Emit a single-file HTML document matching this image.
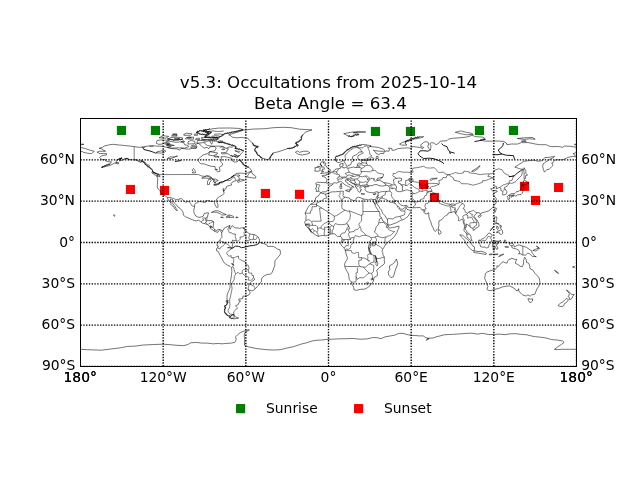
<!DOCTYPE html>
<html lang="en"><head><meta charset="utf-8"><title>v5.3: Occultations from 2025-10-14</title>
<style>html,body{margin:0;padding:0;background:#fff;overflow:hidden}svg{display:block;will-change:transform}</style>
</head><body>
<svg width="640" height="480" viewBox="0 0 640 480">
<rect x="0" y="0" width="640" height="480" fill="#fff"/>
<rect x="116.9" y="125.9" width="9.1" height="9.1" fill="#008000"/>
<rect x="150.9" y="125.9" width="9.1" height="9.1" fill="#008000"/>
<rect x="370.9" y="126.9" width="9.1" height="9.1" fill="#008000"/>
<rect x="405.9" y="126.9" width="9.1" height="9.1" fill="#008000"/>
<rect x="474.9" y="125.9" width="9.1" height="9.1" fill="#008000"/>
<rect x="508.9" y="125.9" width="9.1" height="9.1" fill="#008000"/>
<rect x="125.9" y="184.9" width="9.1" height="9.1" fill="#ff0000"/>
<rect x="160" y="185.9" width="9.1" height="9.1" fill="#ff0000"/>
<rect x="260.9" y="188.9" width="9.1" height="9.1" fill="#ff0000"/>
<rect x="295" y="189.8" width="9.1" height="9.1" fill="#ff0000"/>
<rect x="419" y="180" width="9.1" height="9.1" fill="#ff0000"/>
<rect x="429.9" y="192.9" width="9.1" height="9.1" fill="#ff0000"/>
<rect x="520" y="181.8" width="9.1" height="9.1" fill="#ff0000"/>
<rect x="531" y="195.9" width="9.1" height="9.1" fill="#ff0000"/>
<rect x="554" y="182.9" width="9.1" height="9.1" fill="#ff0000"/>
<g fill="none" stroke="#000" stroke-linejoin="round" stroke-linecap="butt">
<path stroke-width="0.55" d="M112.9,144.3 119.1,145.0 124.6,145.5 130.1,146.1 134.2,146.6 139.7,147.4 143.9,146.7 148.0,146.1 152.1,145.6 156.3,146.1 161.8,146.3 167.3,147.4 170.7,148.5 176.9,148.9 179.7,150.2 181.1,148.4 185.2,148.8 188.7,149.2 192.8,148.3 196.2,148.5 196.9,146.7 195.5,144.3 198.3,143.3 201.1,145.4 202.4,146.7 203.8,148.1 207.3,147.4 208.6,148.8 210.0,146.7 214.8,146.5 216.2,148.1 214.8,150.9 212.1,151.3 209.3,151.6 207.9,153.6 203.8,154.6 201.1,156.4 199.0,158.5 197.9,160.5 198.6,161.6 200.6,163.7 204.5,164.0 207.9,165.3 211.4,166.3 215.1,166.6 215.2,169.5 216.6,170.9 217.6,171.8 219.7,171.5 219.9,169.8 219.2,167.4 221.7,166.0 222.8,164.0 220.6,161.6 221.7,159.6 221.0,156.7 225.2,156.7 228.6,157.5 232.1,158.5 232.7,161.2 234.8,162.2 237.6,161.5 239.4,159.4 241.7,161.9 243.8,164.7 245.8,166.3 248.9,167.4 250.0,168.8 251.6,170.2 250.7,171.5 247.2,172.9 244.5,173.3 240.3,173.2 236.9,173.3 234.1,175.0 231.4,177.1 233.4,176.1 236.2,175.0 239.6,175.0 239.6,176.1 237.6,176.4 238.9,177.7 239.2,178.8 241.7,179.4 243.8,179.7 244.5,180.2 241.0,181.1 238.3,182.4 237.3,181.9 238.3,180.5 239.9,180.1 238.9,179.8 236.2,180.5 234.1,181.3 232.1,182.2 231.0,183.7 231.8,184.9 230.0,185.5 227.2,186.0 226.5,186.7 226.3,188.1 224.9,188.8 224.9,189.9 223.8,191.5 224.1,193.6 222.8,194.7 221.0,195.8 219.4,196.8 217.2,198.3 216.3,200.1 216.9,202.3 217.9,204.6 218.1,207.0 217.3,207.9 216.6,207.4 215.8,206.0 214.6,204.2 214.6,202.5 213.2,201.2 211.0,201.6 209.3,200.6 206.6,200.8 205.2,201.0 205.5,202.4 203.8,202.4 201.7,201.7 199.3,201.6 197.6,202.3 195.5,203.5 194.4,204.9 194.6,207.0 193.9,209.4 193.8,211.8 194.4,213.8 195.8,216.0 197.6,216.9 199.0,217.4 201.1,217.0 203.1,216.3 203.8,214.9 204.1,213.6 206.6,212.9 208.6,212.9 207.9,214.9 207.5,217.0 207.0,218.0 206.8,219.4 206.2,220.6 207.9,220.7 210.0,220.6 212.1,220.7 213.7,221.8 213.5,223.9 213.2,226.0 213.0,227.3 214.1,228.7 215.2,230.1 216.9,230.4 218.8,229.3 220.3,229.5 222.0,230.7 M222.0,230.7 222.7,231.6 221.7,232.4 220.8,231.2 219.7,230.1 218.3,231.1 217.7,232.4 216.2,231.9 214.1,231.1 213.2,230.1 211.4,229.0 210.3,228.3 210.3,227.1 207.9,224.7 206.6,224.3 204.5,223.5 202.4,223.1 200.4,221.4 198.7,220.2 196.2,220.9 193.5,220.2 190.7,219.1 188.0,217.8 185.6,216.9 183.4,215.2 183.3,213.3 182.5,211.1 180.4,208.7 178.0,207.0 176.5,205.0 174.9,203.4 173.2,201.4 172.5,199.5 170.3,198.8 170.5,200.8 172.3,202.8 173.5,204.6 175.2,206.7 176.3,208.9 177.5,210.5 176.5,210.5 174.5,208.6 173.8,206.7 171.4,205.2 170.7,204.2 171.2,203.1 169.4,201.6 168.3,199.8 167.2,197.7 165.5,195.9 164.1,195.4 162.3,194.8 161.8,193.2 160.4,191.8 159.6,190.4 158.1,188.8 157.2,187.0 157.4,184.6 157.5,181.9 157.8,178.8 156.7,176.0 159.0,176.2 159.9,177.2 159.7,175.3 158.8,174.6 156.6,173.6 153.8,172.5 152.4,171.5 152.4,170.2 150.8,168.7 149.1,167.4 147.3,165.9 145.9,164.4 143.9,162.6 141.8,160.9 140.4,162.2 138.4,161.2 136.0,160.2 132.9,159.8 129.4,159.6 126.9,158.5 124.2,158.9 122.5,160.1 119.5,160.8 120.0,159.0 122.1,158.2 119.5,158.5 117.7,160.0 116.0,161.2 117.0,162.2 114.5,163.1 112.2,164.4 109.8,165.5 106.7,166.2 103.9,167.0 101.4,167.4 104.6,165.9 107.4,165.1 110.1,163.7 111.5,161.8 109.7,161.8 107.4,161.5 105.3,160.8 105.3,159.4 101.9,159.8 100.5,158.2 99.8,157.4 101.2,156.0 103.2,155.4 106.4,155.0 106.7,153.6 103.9,153.6 99.5,153.5 97.0,152.1 99.8,151.3 102.8,151.3 105.6,151.2 103.2,150.2 102.5,149.1 99.1,148.3 102.5,147.4 104.2,146.1 108.3,145.0 112.9,144.3 M222.0,230.7 223.4,230.1 224.3,228.0 225.9,227.2 228.2,226.2 230.0,225.4 229.6,227.1 230.0,229.3 230.7,227.6 231.8,226.7 232.3,225.7 234.1,227.1 234.8,227.9 237.3,227.9 239.4,228.4 241.7,227.8 243.4,227.8 244.5,229.1 244.7,230.8 246.9,231.5 249.1,233.8 252.4,234.4 254.4,234.6 256.9,236.0 258.2,236.9 259.6,240.0 259.6,242.1 261.7,243.3 263.7,243.5 266.9,245.0 267.5,246.4 270.6,246.4 273.4,246.5 275.5,247.6 277.5,249.1 279.9,249.8 280.6,252.4 280.0,254.9 278.2,257.0 276.8,258.6 275.2,260.4 274.8,262.5 274.8,265.9 273.8,267.7 273.1,270.1 272.0,272.8 270.6,274.1 267.2,274.5 264.7,275.6 262.4,277.4 261.5,279.0 261.4,281.5 259.6,283.8 257.5,286.3 256.2,288.0 254.8,289.3 252.9,290.6 251.1,290.6 248.9,289.9 248.0,289.3 249.6,291.4 250.2,292.8 249.1,294.9 245.8,296.1 242.8,296.2 242.8,298.6 238.9,299.0 238.9,300.8 240.7,301.1 238.9,302.4 238.3,304.5 235.5,305.9 237.6,307.9 235.5,310.0 233.6,311.8 234.1,314.6 232.7,314.6 230.7,316.3 227.9,315.5 225.9,314.1 224.8,312.1 224.5,309.3 225.9,307.3 224.5,306.6 226.5,304.5 227.9,302.4 227.9,300.4 226.8,299.0 227.0,297.6 227.2,294.9 227.6,293.5 228.6,291.4 230.0,288.0 230.0,284.5 230.3,281.8 231.0,278.3 231.5,274.9 231.8,271.4 231.6,267.9 230.0,266.3 227.2,265.0 224.5,263.2 223.4,261.5 222.1,259.0 220.6,256.3 219.2,253.5 218.3,251.5 216.6,250.8 216.5,248.7 217.9,247.2 218.3,245.9 216.9,245.5 217.2,243.9 218.1,242.5 218.3,241.4 219.9,240.6 220.3,239.1 222.0,237.3 221.7,234.9 221.9,233.1 221.2,232.6 221.7,232.4 M234.0,315.0 234.4,316.2 236.9,317.6 238.7,318.0 236.2,318.6 233.4,318.8 230.7,318.0 229.3,316.9 230.7,316.6 231.4,315.2 234.0,315.0 M228.6,134.8 234.8,133.0 238.9,131.6 243.1,130.2 252.7,129.1 265.1,128.7 273.4,127.7 283.0,127.3 291.3,127.7 299.6,129.2 312.0,129.9 305.1,132.3 303.0,135.0 300.9,137.1 301.6,139.2 298.9,141.2 295.4,143.3 298.2,145.4 295.4,146.3 292.7,148.0 287.2,148.7 283.0,150.2 278.2,151.8 273.4,152.9 271.3,155.7 269.3,159.1 267.2,159.8 265.1,158.9 262.4,158.5 259.6,156.4 257.5,154.3 256.2,152.3 254.8,150.2 255.5,148.1 258.2,146.7 253.4,145.4 252.7,143.3 250.7,141.2 249.3,139.9 247.2,138.1 241.7,137.5 236.2,137.8 232.1,137.1 230.7,135.7 228.6,134.8 M239.6,155.7 236.9,157.1 234.1,156.4 230.7,155.7 227.9,153.6 222.4,153.9 221.0,152.9 226.5,152.3 227.2,150.2 228.6,149.1 223.8,147.4 220.3,146.1 215.5,146.2 211.4,146.1 207.3,145.4 204.5,143.3 205.9,141.2 211.4,140.8 216.9,141.2 218.3,142.6 222.4,142.2 226.5,143.6 230.7,144.7 234.8,146.1 236.2,147.4 234.8,148.1 240.3,149.5 243.8,150.9 241.7,152.9 239.6,155.7 M167.3,147.4 172.1,148.1 179.7,147.8 184.5,148.1 188.7,146.7 188.0,145.4 184.5,144.7 183.8,142.6 179.7,141.9 175.6,142.3 171.4,141.5 165.9,142.6 164.5,144.0 168.7,144.3 166.6,145.6 171.4,146.1 167.3,147.4 M156.3,143.3 159.0,144.4 162.5,144.0 165.9,141.9 169.4,140.5 165.9,140.1 161.1,139.9 157.0,140.5 156.3,142.6 156.3,143.3 M204.5,137.1 211.4,137.4 218.3,137.5 221.0,136.4 222.4,135.0 225.2,133.7 232.1,132.3 238.9,130.9 243.1,129.5 238.9,128.4 229.3,128.0 218.3,128.1 210.0,129.2 203.1,130.2 207.3,131.6 211.4,132.3 210.0,133.7 207.3,135.0 204.5,137.1 M218.3,139.2 215.5,139.9 207.3,139.9 201.7,139.4 201.7,137.4 205.9,137.4 211.4,138.2 218.3,138.2 218.3,139.2 M196.2,132.3 200.4,130.6 204.5,131.6 208.6,133.0 205.9,134.8 200.4,134.1 196.2,132.3 M167.3,138.9 174.2,140.0 182.5,139.4 182.5,137.8 176.9,137.2 171.4,137.5 167.3,138.9 M188.0,144.0 194.9,143.7 194.9,141.2 190.7,140.5 188.0,141.9 188.0,144.0 M196.9,143.3 203.8,142.6 204.5,140.5 197.6,140.5 196.9,143.3 M185.2,138.8 193.5,139.2 193.5,137.1 186.6,137.4 185.2,138.8 M208.6,155.0 212.8,155.7 216.9,154.3 217.6,152.9 212.8,152.3 210.0,151.6 208.6,155.0 M159.0,137.8 165.9,138.1 168.7,136.4 163.2,135.7 159.0,137.8 M190.7,147.8 196.2,147.8 196.2,146.3 192.1,146.3 190.7,147.8 M171.4,136.0 176.9,136.0 176.9,135.0 172.8,135.0 171.4,136.0 M172.8,134.6 176.9,134.6 176.9,133.9 172.8,133.9 172.8,134.6 M183.8,135.3 190.7,135.3 192.1,133.9 186.6,133.2 183.8,134.3 183.8,135.3 M194.2,135.3 197.6,135.3 196.9,133.9 194.2,134.3 194.2,135.3 M195.5,139.6 199.7,139.6 199.7,138.3 196.2,138.3 195.5,139.6 M221.7,149.5 224.5,149.8 224.5,148.8 222.4,148.8 221.7,149.5 M217.6,141.9 222.4,142.2 223.1,141.2 219.7,140.8 217.6,141.9 M214.1,156.0 218.3,156.4 216.9,157.1 214.1,156.7 214.1,156.0 M217.9,157.1 219.0,157.5 218.7,156.5 217.9,157.1 M215.5,169.5 217.6,169.8 216.9,169.2 215.5,169.5 M181.1,141.6 184.5,141.9 183.8,140.8 181.1,141.6 M239.6,152.9 236.9,151.6 234.8,150.7 237.6,151.2 240.3,151.3 M238.3,156.0 235.5,155.0 234.1,154.6 236.9,155.3 M210.0,141.2 211.0,143.3 211.7,144.3 212.4,142.6 212.8,141.2 M166.6,145.2 171.4,145.2 174.2,145.5 170.7,144.8 167.3,144.7 M165.9,144.1 170.1,143.9 166.6,143.4 M174.2,138.9 176.9,138.3 179.7,138.6 176.9,139.2 174.2,138.9 M187.3,137.8 189.3,137.0 191.4,137.7 189.3,138.2 187.3,137.8 M212.8,138.1 215.5,137.8 217.6,138.1 M207.3,131.7 212.8,130.9 218.3,131.5 223.8,131.0 M214.1,134.3 219.7,133.9 223.1,134.6 M211.4,136.4 215.5,135.7 219.7,136.1 M226.5,148.1 229.3,147.0 232.1,147.2 233.4,146.3 M219.7,147.7 222.4,146.3 224.5,147.2 M190.7,146.1 193.5,145.0 195.1,146.1 M149.4,146.1 151.5,146.5 153.5,146.2 M141.8,147.4 143.9,147.7 145.3,146.9 M246.8,176.9 251.3,177.7 255.5,178.2 255.9,176.9 254.8,175.4 252.7,174.3 251.8,172.5 252.0,171.5 250.0,172.2 248.6,174.3 246.8,176.9 M211.4,212.5 214.8,210.8 218.3,210.8 222.4,212.9 226.3,214.7 221.7,215.1 220.3,213.6 216.2,212.2 212.8,212.2 211.4,212.5 M225.9,217.1 228.6,217.4 230.7,217.4 234.1,217.3 232.7,216.0 230.0,215.1 227.5,215.1 228.6,216.3 225.9,217.1 M220.6,217.3 223.4,217.7 222.4,217.0 220.6,217.3 M235.9,217.7 238.0,217.6 237.6,217.0 235.9,217.1 235.9,217.7 M151.7,172.6 155.6,175.5 158.3,176.0 156.3,173.6 151.7,172.6 M115.6,163.3 118.4,164.0 118.7,162.6 116.6,162.6 115.6,163.3 M295.4,152.3 298.2,154.3 302.3,155.0 307.8,153.9 309.9,152.9 307.8,151.3 303.7,151.2 299.6,152.3 297.5,151.0 295.4,152.3 M113.6,215.4 114.3,216.3 115.2,215.6 113.8,214.7 113.6,215.4 M243.4,228.6 244.5,228.6 244.5,227.6 243.4,227.8 243.4,228.6 M226.3,300.4 227.2,300.4 227.1,302.3 226.1,302.0 226.3,300.4 M201.7,178.2 204.5,176.8 206.6,175.7 209.3,176.0 211.7,177.7 211.8,178.4 208.6,178.4 205.2,178.0 201.7,178.2 M207.5,184.6 207.5,181.9 208.6,179.5 210.7,179.3 211.1,180.8 209.6,182.6 209.3,184.6 207.5,184.6 M212.1,179.1 215.5,179.1 218.3,180.5 216.2,181.2 215.1,183.0 213.5,181.9 213.7,180.2 212.1,179.1 M213.6,184.9 216.2,185.3 219.7,183.7 217.6,183.7 214.8,184.4 213.6,184.9 M218.7,182.8 222.4,182.8 223.4,181.9 221.0,181.9 218.7,182.8 M192.1,172.9 195.5,172.9 194.9,170.2 193.5,168.4 192.1,169.8 193.2,171.5 192.1,172.9 M167.3,158.5 171.4,158.5 175.6,156.4 177.6,156.0 174.2,157.1 170.1,156.8 167.3,158.5 M157.0,152.9 161.1,153.1 164.5,152.3 165.9,150.9 163.2,150.2 160.4,151.2 157.0,151.8 157.0,152.9 M174.9,161.6 177.6,161.2 181.1,160.5 178.3,160.9 174.9,161.6 M231.4,263.6 233.0,264.0 233.7,265.2 232.3,264.5 231.4,263.6 M210.0,227.3 211.4,227.1 211.5,226.0 210.3,225.8 210.0,227.3 M363.9,144.5 367.1,145.0 371.2,145.8 369.8,146.5 374.0,146.9 378.1,147.4 383.6,149.2 385.0,150.6 383.6,151.3 379.5,151.2 374.7,150.6 373.3,150.2 375.3,151.8 376.3,153.6 378.8,154.5 380.4,153.5 383.6,153.5 384.0,152.0 386.4,151.0 389.1,151.2 389.4,149.5 388.4,148.1 391.9,148.4 391.9,150.2 394.2,150.3 397.4,148.8 402.2,148.1 404.3,148.1 407.7,147.8 411.2,148.4 412.5,146.5 416.7,147.0 420.8,147.7 422.9,148.5 423.6,147.4 420.8,146.5 420.8,144.7 422.9,143.3 424.3,141.9 427.7,141.9 428.8,144.0 427.7,146.1 428.5,148.1 429.8,149.5 427.7,151.2 430.5,150.2 430.5,148.8 431.1,146.1 429.8,143.7 431.8,142.6 434.6,143.3 436.0,144.7 438.7,143.3 440.1,141.2 447.0,140.7 448.4,139.2 452.5,138.3 459.4,137.8 466.3,137.1 472.2,135.4 475.9,136.7 482.8,137.1 484.9,138.5 480.1,140.1 483.5,140.8 485.6,141.1 491.1,141.2 498.0,141.0 503.5,141.4 506.2,142.9 506.9,144.7 511.7,144.0 517.3,144.1 521.4,142.6 528.3,142.6 535.2,144.0 539.3,144.7 546.2,144.7 548.9,146.1 551.7,146.6 558.6,146.5 562.7,147.4 564.1,146.1 571.0,146.3 576.5,147.4 M80.5,147.4 84.6,148.4 90.1,150.2 94.3,151.3 91.5,153.6 87.4,153.2 83.3,152.3 81.9,151.2 80.5,152.3 M576.5,152.3 573.7,153.6 573.1,153.2 575.1,155.7 575.8,156.4 572.4,156.4 568.2,157.4 562.7,159.8 557.2,159.8 554.5,160.1 553.1,162.6 551.7,162.9 553.1,165.3 551.7,166.7 548.9,169.5 546.9,169.6 544.4,172.2 543.4,169.5 542.7,166.7 543.0,164.0 544.8,162.6 548.3,160.5 550.3,159.1 553.8,157.5 554.5,156.4 548.9,157.4 544.8,157.5 542.1,160.8 537.9,161.2 533.8,160.2 529.0,160.7 524.1,161.2 518.6,164.7 514.8,167.1 517.9,168.1 518.6,168.5 521.4,169.2 523.3,169.1 522.1,171.5 522.1,173.6 521.4,175.7 519.3,177.7 516.6,180.5 515.2,181.9 511.7,183.5 510.1,182.8 508.6,184.2 507.2,185.5 506.9,186.3 504.2,187.7 504.2,188.4 505.3,189.2 506.8,191.5 506.8,193.6 505.8,194.3 502.8,195.1 502.5,193.6 503.1,191.5 500.7,190.4 501.0,189.2 500.3,187.9 499.8,187.4 496.0,188.8 496.6,186.7 495.2,186.3 492.5,188.5 490.7,188.8 491.8,190.1 492.5,191.1 494.8,190.4 497.3,191.0 497.1,191.7 494.5,192.8 492.9,194.3 494.5,196.3 496.3,198.7 496.3,199.8 495.2,200.5 496.6,201.2 495.9,203.2 493.8,205.7 492.5,207.8 491.1,208.9 489.0,210.8 485.8,211.8 484.2,212.2 481.4,213.0 480.5,214.5 479.6,212.9 477.3,212.7 475.5,214.3 474.1,216.3 475.2,218.1 477.3,220.5 478.7,223.2 479.1,226.0 478.7,226.7 475.9,228.2 475.2,229.4 473.2,230.5 473.2,228.7 472.5,228.2 470.4,227.3 469.7,226.0 467.7,225.0 467.0,223.9 466.3,224.2 466.3,226.7 465.3,228.3 465.6,229.8 466.7,231.1 467.2,232.9 468.8,233.5 469.7,234.2 471.0,236.3 471.1,238.6 472.1,240.6 471.1,240.7 469.7,239.6 468.1,238.5 467.0,236.7 466.7,234.5 466.4,233.5 465.6,232.4 464.5,231.5 463.9,230.4 464.2,228.7 464.5,226.4 464.2,224.6 463.5,223.2 463.1,221.1 463.0,219.8 462.1,219.1 460.8,219.8 459.8,220.7 458.4,220.5 458.7,218.4 458.0,216.3 456.6,214.9 455.7,213.6 455.0,211.8 453.2,211.8 451.1,212.5 448.4,212.9 447.7,214.7 445.6,215.6 443.5,217.7 441.9,219.6 439.1,220.9 438.7,223.2 439.0,225.3 438.4,227.3 438.4,228.3 437.3,229.4 436.2,230.2 435.3,231.5 433.9,230.1 433.2,228.0 432.2,226.2 431.4,224.2 430.9,221.8 429.8,220.0 429.1,217.7 428.8,216.0 428.8,213.6 428.4,212.5 428.0,213.6 426.3,213.8 424.9,213.6 423.6,211.8 425.4,210.9 423.2,210.4 421.5,209.4 420.8,208.3 420.1,207.5 416.7,207.6 413.4,207.8 409.8,207.5 407.4,207.1 406.8,205.3 403.9,205.9 401.5,205.3 399.5,204.1 397.7,201.2 396.0,200.6 394.6,201.2 394.6,202.5 395.7,204.3 397.7,205.9 397.4,207.1 398.8,206.7 399.6,207.8 399.5,208.7 400.8,209.2 402.9,209.2 405.0,207.4 406.1,206.4 406.2,208.3 407.0,209.4 409.4,210.0 410.9,211.5 409.2,214.4 408.1,216.3 406.3,217.7 404.3,219.1 400.6,220.5 396.0,222.9 390.5,224.9 388.4,225.0 388.0,224.2 387.5,222.1 387.5,219.9 386.4,218.0 384.7,215.4 382.5,213.2 381.5,210.1 379.9,208.3 379.1,206.7 377.0,203.9 376.4,201.9 375.8,203.9 375.6,204.3 374.4,203.2 373.4,201.2 M373.4,201.2 373.3,201.7 374.7,203.9 375.3,205.7 376.7,208.3 377.7,209.7 379.3,212.2 379.9,213.8 379.9,216.3 381.5,217.7 382.9,221.1 385.3,222.5 387.1,224.3 388.2,225.3 388.2,226.7 389.8,228.0 392.6,227.6 396.0,226.9 399.0,226.1 398.9,228.0 397.8,230.1 396.7,232.9 394.6,236.3 391.9,239.1 389.1,241.1 386.4,243.9 384.7,245.9 383.6,248.0 382.6,249.4 382.0,251.5 382.9,252.8 382.9,254.9 384.3,257.0 384.3,260.4 384.6,263.2 382.9,265.2 380.2,266.9 378.8,268.4 376.7,270.1 377.4,272.8 377.4,275.6 374.0,277.6 373.7,279.7 373.1,282.0 371.2,283.8 369.8,285.9 367.1,288.0 364.3,289.2 360.9,289.3 356.1,290.4 353.9,289.6 353.6,287.3 352.3,284.5 351.2,281.9 349.4,279.7 348.9,276.9 348.5,273.9 347.1,271.4 345.0,267.3 344.6,264.5 345.4,261.8 347.1,259.7 347.4,257.7 346.4,254.9 345.4,250.8 345.0,249.4 343.7,247.7 341.6,245.7 340.6,243.6 341.6,241.8 341.9,239.7 342.0,238.0 340.9,236.6 339.5,236.3 337.5,236.6 336.1,235.2 334.7,233.8 331.9,233.8 330.2,234.2 327.8,235.2 325.7,235.9 324.4,235.5 321.6,235.5 318.2,236.4 316.1,235.3 313.6,233.5 311.3,232.2 310.2,230.1 308.5,228.0 307.8,227.3 305.5,225.4 305.4,223.9 304.4,222.2 305.8,220.5 306.0,217.7 306.2,215.8 305.1,213.6 306.5,210.1 308.5,206.7 310.6,204.3 312.7,203.2 314.7,201.9 315.1,200.5 315.7,197.7 318.2,196.2 320.2,193.2 321.2,193.0 324.4,193.9 325.7,194.1 328.5,193.2 330.6,192.2 332.6,191.8 335.4,191.8 338.1,191.5 340.9,191.2 342.3,191.2 343.7,191.5 343.0,192.9 343.4,195.0 342.6,195.7 343.7,196.8 345.7,197.3 349.2,198.0 349.9,199.1 353.3,200.5 355.4,200.5 356.1,199.1 356.3,198.0 358.1,197.2 360.2,197.7 362.9,198.7 365.7,199.4 368.5,199.9 370.5,199.2 371.9,199.1 373.0,199.5 373.4,201.2 M373.0,199.5 375.6,199.4 376.6,197.7 377.4,195.7 378.1,193.6 378.1,191.8 376.0,191.9 373.3,192.8 370.5,192.5 368.5,192.2 367.1,191.8 366.1,191.2 365.0,189.5 365.4,188.4 364.6,187.4 366.4,186.8 368.5,186.7 368.7,185.7 371.9,185.7 374.7,184.6 377.0,184.6 378.8,185.6 381.5,186.0 383.6,186.0 385.7,185.3 385.7,183.9 383.6,182.6 381.5,181.3 379.9,180.5 379.2,180.1 380.9,178.4 382.5,177.5 380.2,177.7 377.4,178.4 376.7,179.5 378.8,180.2 377.0,180.6 375.3,181.3 374.7,181.1 373.3,179.9 374.8,179.0 372.6,178.4 370.9,178.4 369.4,180.1 368.0,181.9 367.8,182.7 366.7,183.7 367.1,184.8 368.5,185.6 367.1,186.0 365.7,186.4 364.6,187.0 364.3,186.3 362.3,186.1 361.3,187.0 360.1,186.7 359.8,188.1 360.5,188.8 361.6,190.1 360.5,190.1 360.5,191.1 360.2,192.2 359.1,192.1 358.3,191.5 357.7,190.3 357.7,189.5 356.7,188.1 355.4,187.0 355.4,185.3 354.7,184.4 352.6,183.3 350.5,182.4 349.2,181.2 348.2,180.2 347.4,180.2 347.4,179.5 345.4,180.1 345.6,181.5 347.2,182.4 348.2,184.1 350.5,184.8 351.2,185.6 353.3,186.6 354.0,187.3 351.9,186.7 351.4,187.8 352.1,188.8 351.2,189.6 350.1,190.1 350.5,189.0 350.1,187.4 348.5,186.4 346.4,185.6 345.3,184.9 343.7,183.9 342.7,182.6 341.6,181.6 340.6,181.3 338.8,182.2 336.8,183.1 334.7,182.7 332.9,183.3 332.9,184.2 331.5,185.5 329.5,186.3 328.1,188.1 328.6,189.0 327.5,190.6 325.7,191.8 322.4,191.9 321.1,192.8 319.8,191.9 318.3,191.2 316.2,191.5 316.4,189.5 315.5,189.0 316.4,187.1 316.5,185.3 315.8,183.3 317.5,182.3 320.9,182.4 323.7,182.6 326.0,182.7 326.7,181.2 327.0,179.5 325.7,178.0 325.1,177.1 322.3,176.5 322.0,175.7 324.4,175.3 326.3,175.4 326.2,174.0 328.1,174.6 328.9,174.0 330.6,173.3 330.7,172.4 332.6,171.8 334.0,170.9 335.0,169.5 336.8,168.9 338.1,168.7 340.2,168.5 340.5,167.4 339.8,166.0 339.8,164.2 341.6,163.7 343.1,163.0 342.7,164.7 343.4,164.9 342.3,166.4 342.0,167.0 343.7,167.5 343.7,168.1 345.7,167.5 348.1,168.2 350.5,167.7 353.3,167.0 354.3,167.5 355.8,167.4 357.4,166.3 357.4,164.2 358.4,163.1 359.6,163.0 361.6,164.0 362.1,162.2 360.9,160.9 362.9,160.5 367.1,160.5 370.1,160.0 367.8,159.0 364.3,159.3 360.2,160.0 358.1,159.1 357.8,157.4 358.1,155.7 361.6,153.6 363.4,152.8 362.3,151.8 359.2,152.0 357.8,153.6 356.7,154.6 354.0,155.7 352.6,156.7 352.2,158.9 354.3,159.7 354.0,160.8 351.6,161.8 351.2,163.3 350.5,164.9 348.5,165.3 348.1,166.2 346.4,166.2 346.1,164.8 345.0,163.1 343.9,161.2 343.1,160.1 341.9,161.2 339.8,162.5 338.1,162.6 336.2,161.5 335.4,159.8 335.4,157.8 335.7,156.8 338.1,155.8 340.2,155.0 342.3,154.3 344.3,152.9 345.7,151.6 347.1,150.2 349.2,148.8 350.5,147.8 353.3,146.7 356.1,146.1 358.8,145.6 361.6,144.7 363.9,144.5 M320.6,173.5 323.7,173.2 327.1,172.6 329.9,172.4 330.4,171.8 329.2,171.5 330.8,170.0 328.8,169.5 328.5,168.5 326.8,167.3 326.3,166.0 324.4,165.3 325.7,164.0 325.7,163.0 323.0,163.1 324.4,161.8 321.6,161.8 320.5,163.3 320.9,164.9 321.9,166.0 321.6,167.0 323.7,166.9 324.4,168.2 324.4,169.1 322.3,169.2 322.7,170.4 321.3,171.1 323.7,171.5 322.3,172.2 320.6,173.5 M320.2,170.6 317.5,171.3 314.7,171.1 315.4,169.2 314.7,167.8 317.1,167.4 317.5,166.4 320.0,166.4 320.9,167.4 320.0,168.8 320.2,170.6 M345.7,190.1 349.9,189.9 349.4,191.9 345.7,190.7 345.7,190.1 M339.8,186.0 341.9,186.0 341.7,188.5 340.2,188.8 339.8,186.0 M340.5,183.8 341.6,183.4 341.5,185.3 340.6,185.2 340.5,183.8 M361.0,193.6 364.7,194.0 362.3,194.3 361.0,193.6 M373.0,194.3 376.0,193.5 375.1,194.7 373.0,194.3 M399.5,144.0 401.5,145.1 407.0,145.1 405.0,143.3 405.7,141.2 409.1,139.9 413.9,138.1 419.4,136.8 423.6,136.7 420.8,137.8 413.9,139.2 408.4,141.2 405.0,141.5 402.2,142.6 399.5,144.0 M343.7,133.7 347.8,135.7 351.9,136.8 354.7,135.0 358.8,134.6 357.4,133.0 353.3,132.7 365.7,132.0 358.8,131.5 350.5,132.3 343.7,133.7 M460.8,133.7 466.3,134.8 473.2,134.3 470.4,133.0 466.3,132.3 460.8,130.9 455.3,132.3 460.8,133.7 M517.3,138.5 524.1,139.4 529.7,138.8 535.2,139.2 532.4,137.5 524.1,137.8 517.3,138.5 M521.4,141.2 526.2,141.6 525.5,140.5 521.4,141.2 M574.4,144.7 576.5,144.0 576.5,144.8 574.4,144.7 M80.5,144.0 83.9,144.3 80.5,144.8 M524.1,167.7 525.9,170.9 525.8,173.6 527.6,175.0 525.5,175.7 525.8,178.2 524.1,179.1 524.1,175.7 524.1,172.9 523.7,170.2 524.1,167.7 M521.4,185.3 523.0,184.9 525.8,184.6 529.0,182.8 527.3,181.9 524.1,179.8 523.6,181.2 523.2,182.8 521.8,183.3 521.4,185.3 M523.2,185.6 524.1,188.1 522.8,189.7 522.8,191.8 522.1,193.3 521.1,194.3 519.7,194.7 517.3,194.8 517.0,195.2 515.6,196.3 514.5,195.0 511.7,195.2 509.0,195.7 508.9,195.8 510.0,197.0 509.4,199.2 507.9,199.4 507.9,197.7 507.2,196.6 509.0,195.1 511.1,193.7 513.1,193.6 514.9,193.5 515.9,192.5 517.0,191.1 517.7,191.8 519.3,191.0 520.7,189.5 521.4,187.7 521.4,186.4 523.2,185.6 M511.1,195.9 513.4,195.2 514.1,195.9 512.4,196.6 511.5,197.3 511.1,195.9 M495.2,207.8 496.5,208.3 495.1,212.2 494.0,210.8 495.2,207.8 M478.3,215.9 480.7,214.9 481.4,215.6 479.6,217.3 478.3,216.9 478.3,215.9 M494.7,217.0 496.9,217.0 496.6,219.8 495.9,221.1 496.6,223.2 499.3,224.6 498.7,223.6 496.6,223.6 495.2,223.8 494.8,222.2 493.8,221.1 494.2,219.8 494.7,217.0 M496.6,232.9 498.7,231.9 499.6,233.8 501.3,234.5 502.8,233.1 502.4,230.8 501.4,229.1 500.0,230.7 498.7,230.7 496.9,231.5 496.6,232.9 M490.1,230.8 493.1,228.0 492.9,226.9 490.1,230.8 M500.0,225.3 501.4,225.7 501.1,227.3 500.7,228.4 500.0,226.9 500.0,225.3 M496.6,226.2 498.0,226.7 498.4,228.7 497.3,229.4 496.6,228.0 496.6,226.2 M478.7,240.4 480.5,240.2 481.8,239.1 484.2,238.0 486.3,236.0 488.3,233.5 489.7,232.9 490.4,234.0 492.5,235.3 491.1,236.6 490.7,238.4 492.2,241.1 490.8,241.4 490.4,243.5 489.0,244.6 488.6,247.3 486.5,248.0 484.9,247.0 482.5,247.2 480.5,246.5 480.1,244.6 478.7,242.5 478.7,240.4 M459.8,234.8 462.8,235.3 464.9,237.3 467.0,239.1 469.0,241.1 471.1,242.5 471.5,243.9 472.5,245.9 474.5,246.9 474.3,250.5 472.5,250.5 469.4,248.0 467.7,245.9 466.0,243.2 464.5,240.2 462.1,237.7 459.8,234.8 M473.4,251.9 475.2,250.8 478.0,251.6 481.0,251.3 483.8,252.0 486.3,253.2 486.0,254.5 482.8,253.9 478.7,253.2 475.2,252.7 473.4,251.9 M493.6,241.4 494.9,240.7 498.0,241.3 500.7,240.3 499.8,241.9 495.9,241.8 494.1,242.5 495.2,243.9 498.4,243.6 496.2,245.1 497.3,246.9 498.0,248.0 497.3,249.4 496.2,249.0 495.2,246.2 494.2,246.6 494.4,250.1 493.1,250.1 493.1,247.3 492.2,246.2 493.6,241.4 M498.7,256.7 500.0,255.2 503.8,254.1 501.4,255.6 498.7,256.7 M493.6,254.2 498.0,253.9 497.7,254.6 493.8,254.6 493.6,254.2 M489.4,254.1 492.5,253.9 492.2,254.6 489.4,254.9 489.4,254.1 M504.2,240.0 505.8,240.4 504.9,241.8 505.7,243.2 504.6,242.5 504.2,240.0 M504.9,246.6 508.7,247.0 506.9,247.3 504.9,247.0 504.9,246.6 M509.0,243.6 511.1,243.1 513.1,243.6 514.5,247.0 517.3,245.3 519.3,245.0 522.8,246.1 526.2,247.2 529.4,249.4 531.7,250.8 532.1,252.8 534.9,256.3 536.3,256.7 532.1,256.3 529.7,253.8 527.6,253.1 525.5,255.2 522.8,255.0 520.0,253.5 518.6,254.1 519.7,252.1 518.6,250.1 515.9,248.8 512.4,248.0 511.5,246.6 512.8,245.7 510.4,245.5 509.0,243.6 M532.8,250.4 535.2,249.4 537.9,248.3 538.3,249.4 535.9,251.0 532.8,250.4 M536.3,246.1 539.0,247.7 539.3,249.0 537.9,247.0 536.3,246.1 M438.4,229.1 440.4,230.8 441.2,232.9 440.1,234.1 438.7,234.2 438.3,231.5 438.4,229.1 M396.4,259.0 397.8,263.2 397.0,265.9 395.3,270.1 393.5,276.7 390.9,277.6 388.7,274.9 388.2,272.1 389.8,269.4 389.4,265.9 392.3,264.3 394.4,262.5 395.7,260.4 396.4,259.0 M524.8,257.2 526.2,259.7 526.6,262.5 528.7,263.2 529.7,265.9 530.1,268.7 533.1,270.3 534.8,273.2 536.3,274.9 539.0,277.4 539.6,280.4 540.0,282.5 538.6,286.6 536.8,289.1 535.4,292.8 534.9,294.2 531.7,294.9 530.1,296.2 528.0,294.9 526.2,296.0 522.8,295.1 521.0,293.2 518.9,291.5 518.6,288.7 517.9,290.7 515.9,290.4 514.8,288.7 513.1,287.7 509.7,285.9 506.2,286.2 502.1,287.0 499.3,288.2 495.9,289.1 493.1,289.8 491.1,290.7 488.3,290.3 486.9,289.3 487.9,286.6 486.9,283.8 485.6,280.4 484.6,278.3 485.2,275.6 485.3,273.5 486.9,272.1 489.7,271.0 492.5,270.1 495.2,269.6 497.0,267.3 496.9,265.9 498.7,266.3 500.0,264.5 501.8,262.5 503.5,261.8 505.3,262.9 507.1,263.0 507.6,261.1 509.0,259.3 511.1,259.0 511.7,258.2 514.5,259.3 516.8,259.3 515.9,261.1 515.2,263.2 517.9,264.5 520.7,266.5 522.5,266.6 523.5,263.9 523.6,260.4 524.4,257.7 524.8,257.2 M527.9,298.6 530.3,299.1 532.8,298.9 532.4,301.1 531.0,302.4 529.7,302.4 528.6,300.6 527.9,298.6 M566.4,289.9 568.6,291.1 570.3,293.1 571.7,294.6 574.2,294.4 572.6,296.6 572.1,298.3 569.9,299.8 569.3,299.4 569.6,297.6 568.0,296.6 569.2,294.9 569.1,293.2 566.9,290.7 566.4,289.9 M566.4,298.3 568.5,299.7 566.6,302.4 564.5,303.5 563.8,305.6 562.0,306.7 559.3,306.2 557.9,305.6 560.2,303.4 563.4,301.5 565.2,299.7 566.4,298.3 M554.5,270.2 557.9,272.4 558.6,273.4 556.5,272.5 554.5,270.2 M572.8,266.6 574.4,266.5 574.6,267.4 572.9,267.6 572.8,266.6 M393.3,179.8 396.0,178.4 398.8,178.0 401.5,178.4 401.5,180.5 399.5,181.2 398.1,181.2 398.8,183.3 400.8,183.9 401.2,185.3 402.9,186.0 402.2,188.1 402.9,190.8 400.1,191.8 398.1,191.5 396.0,190.7 396.0,189.2 396.7,187.0 395.3,184.9 393.9,183.3 393.9,181.9 393.3,179.8 M409.1,178.4 412.5,178.4 413.2,180.5 411.2,181.9 409.1,181.2 409.1,178.4 M429.8,179.8 431.8,178.2 434.6,178.4 437.3,178.0 436.7,178.8 433.2,179.1 431.1,180.5 429.8,179.8 M471.8,171.5 474.5,170.9 478.0,168.8 480.1,165.8 479.4,165.8 477.3,167.7 474.5,169.5 471.8,171.1 471.8,171.5 M370.5,159.8 373.3,159.8 374.0,158.5 371.9,157.5 370.1,158.5 370.5,159.8 M376.0,158.5 378.1,158.5 378.1,156.4 376.4,156.4 376.0,158.5 M372.3,242.1 375.3,242.1 375.8,243.9 374.7,245.9 372.6,245.9 372.2,243.9 372.3,242.1 M368.7,247.3 369.4,248.7 370.5,251.5 371.2,254.5 370.2,253.5 368.9,250.1 368.7,247.3 M375.3,255.6 376.3,257.7 376.7,260.4 377.0,262.2 376.2,261.8 375.8,259.0 375.3,255.6 M80.5,349.3 87.4,349.7 101.2,350.2 110.8,349.0 121.8,347.6 127.3,346.4 135.6,346.1 142.5,345.1 153.5,344.5 163.2,344.2 170.1,344.7 176.9,345.3 183.8,345.6 188.0,344.5 190.7,342.8 196.2,342.4 201.7,343.1 207.3,343.1 212.8,343.8 218.3,343.5 222.4,343.8 226.5,343.4 230.7,343.2 234.8,342.4 236.2,339.6 235.5,336.9 237.6,334.8 240.3,332.7 243.1,331.4 247.2,330.0 249.3,329.6 248.6,330.7 245.8,331.5 244.5,333.4 244.2,336.2 244.7,338.9 244.5,342.4 244.5,345.3 248.6,346.9 256.9,348.6 266.5,349.7 273.4,350.0 280.3,349.7 287.2,348.0 294.1,346.5 300.9,344.2 306.5,342.8 312.0,341.0 316.1,340.3 321.6,340.0 327.1,339.4 332.6,339.2 339.5,338.8 346.4,338.7 353.3,338.5 360.2,339.2 367.1,338.9 372.6,337.6 376.7,337.6 380.9,338.7 385.0,336.9 390.5,335.9 394.6,335.2 398.8,333.4 402.9,333.3 407.0,334.5 411.2,335.4 415.3,335.5 419.4,335.9 423.6,335.9 424.9,337.3 429.1,338.7 426.3,340.3 427.7,338.3 433.2,338.0 436.0,336.9 440.1,335.9 444.2,334.8 448.4,334.5 452.5,334.4 456.6,334.1 460.8,333.8 466.3,333.4 471.8,333.2 477.3,334.1 482.8,333.3 488.3,334.5 493.8,334.5 499.3,334.1 504.9,334.7 510.4,333.8 515.9,333.7 521.4,334.4 526.9,334.8 531.0,335.9 535.2,336.7 540.7,337.2 546.2,338.0 551.7,339.6 557.2,340.0 562.7,341.0 564.1,342.4 561.3,344.5 557.2,347.2 554.5,349.3 557.2,349.6 562.7,349.3 569.6,349.3 576.5,349.3"/>
<path stroke-width="0.5" d="M134.2,146.6 134.2,159.4 137.0,159.8 139.1,161.3 141.8,160.2 144.6,161.9 146.9,164.4 149.4,165.3 149.3,166.7 M158.8,174.6 197.3,174.5 198.0,174.4 201.7,176.0 205.2,176.4 206.7,176.0 211.7,177.9 212.1,178.6 213.5,179.1 214.8,180.1 215.0,183.3 214.1,184.4 214.8,185.0 219.7,183.5 219.7,182.8 219.4,182.6 223.1,181.7 225.2,180.5 230.0,180.5 231.4,179.5 232.1,178.4 233.2,177.2 234.4,177.3 235.1,177.7 235.1,179.5 235.9,180.2 M167.2,197.7 170.5,197.4 175.6,199.4 179.4,199.4 179.4,198.7 181.8,198.7 184.5,201.7 186.3,202.5 187.3,201.4 189.3,201.7 190.7,203.6 191.7,205.6 194.6,206.8 M201.5,222.5 201.5,221.6 202.2,220.5 203.8,220.3 202.7,218.8 203.1,218.0 205.6,218.0 206.8,217.0 M205.6,218.0 205.6,220.6 206.0,220.6 M204.4,223.6 205.3,222.7 205.6,222.4 207.0,220.9 M205.3,222.7 206.6,223.2 207.5,224.0 M208.2,224.6 209.0,223.5 210.3,223.3 211.4,222.2 213.9,221.8 M210.4,227.2 211.7,227.3 213.2,227.5 M214.3,231.3 214.3,230.0 214.7,229.3 M229.6,217.7 229.7,215.4 M230.3,226.2 228.6,227.3 227.9,229.4 228.7,230.8 229.3,232.6 231.8,232.9 232.7,234.1 235.5,234.0 235.1,236.3 235.8,238.0 236.2,240.8 M236.2,240.8 232.3,240.2 232.9,241.1 232.1,241.8 232.7,243.2 232.1,248.3 M232.1,248.3 229.3,245.9 227.2,244.3 224.8,242.6 221.7,241.5 219.9,240.6 M224.8,242.6 224.3,244.6 222.8,246.1 220.8,247.2 220.1,248.8 219.0,248.7 217.9,248.3 217.9,247.2 M232.1,248.3 227.9,251.5 226.5,252.8 227.9,255.3 229.0,256.3 231.2,255.6 231.2,257.7 232.7,257.7 233.8,259.7 233.4,262.5 232.9,263.9 233.4,265.2 232.7,266.6 231.6,267.9 M232.7,257.7 234.1,257.7 238.5,256.0 238.5,258.3 239.6,259.4 243.1,261.1 245.1,261.5 245.8,264.8 248.2,265.0 248.3,266.6 249.1,267.3 248.6,269.8 248.3,270.3 246.9,269.1 243.4,269.6 242.4,270.7 242.3,273.1 239.9,273.9 238.7,272.9 237.2,272.5 235.9,273.9 234.8,272.1 234.1,269.4 233.4,267.3 232.7,266.6 M235.9,273.9 234.4,276.3 234.1,279.7 232.3,282.5 231.6,285.2 232.1,288.7 231.4,292.1 230.7,295.5 229.7,299.0 229.7,302.4 230.0,305.2 229.3,307.9 227.9,310.7 228.9,312.8 230.0,314.1 234.1,314.6 M234.0,315.0 234.0,318.1 M242.3,273.1 244.5,275.3 247.5,276.7 249.1,277.5 247.9,280.0 250.7,280.3 251.6,280.1 253.3,277.8 M248.3,270.3 248.7,272.9 251.8,273.2 252.0,275.6 253.7,275.7 253.3,277.8 254.5,278.6 254.4,280.0 251.6,281.5 249.1,284.1 248.6,286.6 248.0,289.3 M249.1,284.1 251.3,284.9 254.1,286.3 254.9,287.7 254.9,288.9 M245.8,230.8 244.0,232.6 244.2,234.2 244.9,235.3 242.0,237.0 240.0,237.0 240.3,239.1 238.3,241.1 236.2,240.8 M244.9,235.3 245.8,235.6 246.1,237.7 246.0,239.5 247.2,240.7 248.6,240.4 250.0,239.7 251.3,239.7 253.4,239.3 255.8,239.5 257.3,237.0 M249.7,234.2 249.3,236.3 248.6,237.7 250.0,239.7 M254.1,234.6 253.5,236.3 253.4,239.3 M316.4,184.8 317.2,184.6 319.3,184.8 320.0,185.2 319.0,186.7 318.9,187.8 318.2,188.1 318.9,189.2 318.3,191.2 M326.0,182.7 328.5,183.7 330.6,183.9 332.9,184.1 M338.8,182.2 338.1,181.2 338.0,179.8 338.1,179.3 337.0,178.7 337.0,178.3 338.1,177.1 339.0,176.9 339.8,175.0 337.3,174.3 336.5,174.3 335.1,173.6 334.3,173.6 332.1,172.1 M333.2,171.7 335.4,171.7 336.5,172.0 336.8,172.5 337.0,173.3 337.3,174.3 M336.8,172.5 336.8,171.1 338.1,170.4 338.4,169.1 M340.5,166.9 342.0,167.0 M348.1,168.2 348.1,169.8 348.8,170.9 349.2,172.2 346.4,172.9 345.3,173.2 345.7,174.3 347.5,175.4 346.4,177.1 345.0,176.9 343.0,177.1 341.7,177.1 340.2,176.8 339.0,176.9 M338.1,179.3 340.2,178.8 340.9,179.4 342.6,178.4 343.0,178.0 345.3,177.7 347.4,178.4 347.4,179.5 M341.7,177.1 341.7,177.7 343.0,178.0 M347.4,178.4 350.5,178.0 351.9,176.6 352.1,176.4 351.8,175.5 349.2,175.0 347.5,175.4 M349.2,172.2 351.2,173.2 353.3,173.6 354.4,174.3 351.9,175.5 M354.4,174.3 356.1,174.6 359.5,174.9 358.9,175.8 356.7,175.7 354.4,176.6 352.1,176.4 M359.5,174.9 361.6,172.9 361.0,171.5 360.9,170.2 361.4,168.2 359.9,167.5 355.8,167.5 M359.9,167.5 359.8,166.7 357.8,166.3 M361.4,168.2 363.6,167.8 365.1,165.8 361.6,164.9 357.4,165.2 M365.1,165.8 367.4,165.2 366.7,163.4 364.3,162.9 362.0,162.7 M366.7,163.4 366.3,161.5 367.1,160.5 M366.8,159.1 369.8,157.1 371.9,155.8 369.8,154.3 369.6,151.6 368.5,149.2 367.8,147.6 368.5,147.3 370.9,146.3 M368.5,147.3 367.1,145.9 364.3,146.2 362.9,147.8 358.8,147.7 356.9,147.3 360.9,149.5 361.6,151.8 M356.9,147.3 353.3,148.1 350.5,150.2 348.5,151.6 347.1,153.6 345.0,155.0 345.3,157.8 345.7,159.1 344.3,161.2 343.9,161.2 M367.4,165.2 370.9,165.9 371.2,167.1 373.3,168.8 371.9,170.7 370.5,171.8 365.7,171.5 361.0,171.5 M371.9,170.7 375.3,170.4 377.4,172.9 380.9,173.6 383.6,174.2 383.3,176.4 381.1,177.6 M358.9,175.8 360.1,176.4 362.8,176.8 365.1,176.0 367.1,176.0 368.7,177.1 369.8,178.4 368.5,178.7 367.4,179.8 369.4,180.1 M365.1,176.0 367.4,178.4 367.4,179.8 M360.1,176.4 357.7,178.7 356.5,178.8 354.5,179.3 351.2,178.4 350.5,178.0 M347.4,179.8 349.9,179.7 351.2,178.4 M350.3,180.2 351.9,180.2 354.7,180.6 355.4,182.6 354.0,183.9 352.7,183.3 350.8,181.6 350.3,180.2 M354.5,179.3 354.7,180.6 M356.5,178.8 358.0,180.2 359.5,181.1 359.8,181.6 360.2,182.2 363.6,182.3 365.7,181.7 367.9,182.3 M359.8,181.6 359.4,183.3 359.4,184.2 360.1,185.6 362.3,185.3 364.7,185.0 367.1,184.6 M364.7,185.0 364.9,185.6 364.3,186.3 M355.2,184.8 356.7,184.4 359.4,184.2 M356.7,184.4 356.7,186.0 357.4,186.4 356.1,187.8 M357.4,186.1 360.1,185.6 M354.0,183.9 355.2,184.8 356.1,183.5 355.4,182.6 M318.4,166.7 317.5,167.4 319.8,168.0 M378.1,192.9 379.1,192.5 380.9,191.8 384.7,191.4 386.9,191.4 390.2,191.2 389.4,189.5 389.9,187.8 388.7,186.4 388.4,185.9 387.1,185.3 385.7,185.3 M383.6,182.7 387.1,183.0 389.8,183.7 392.6,184.9 395.3,184.9 M388.4,185.9 390.5,185.6 392.6,184.9 M390.5,185.6 391.2,186.7 392.6,188.1 392.0,188.9 M389.9,187.8 392.0,188.9 394.6,187.9 395.9,189.6 M386.9,191.4 385.3,192.2 385.3,194.6 382.0,196.5 379.2,198.0 377.8,197.4 M378.0,194.8 378.8,195.2 377.8,196.6 377.8,197.4 377.4,199.1 376.7,201.9 M376.9,196.9 377.8,196.6 M375.6,199.4 376.6,201.9 M376.7,202.0 378.1,202.3 380.2,201.2 379.5,199.1 382.2,198.1 382.0,196.5 M382.2,198.1 386.4,199.5 390.1,202.3 392.6,202.4 393.9,201.2 394.6,201.2 M392.6,202.4 394.2,203.2 395.2,203.2 M394.6,201.2 394.2,199.8 391.9,197.0 391.2,195.0 391.9,193.2 390.2,191.2 M387.5,219.9 388.2,218.4 389.8,218.5 393.3,219.1 394.6,217.4 400.1,216.3 404.3,214.9 405.2,212.2 404.6,211.2 401.0,210.9 399.6,209.2 M400.1,216.3 401.7,219.6 M404.6,211.2 405.4,209.4 406.2,208.2 M398.5,208.5 399.2,208.7 M402.8,191.1 405.7,190.1 407.4,189.9 409.8,190.8 412.8,192.1 412.8,193.5 412.0,195.7 412.3,199.1 413.6,199.4 412.4,201.3 414.6,202.1 415.6,205.0 413.6,206.4 413.4,207.8 M412.4,201.3 416.7,202.0 419.8,201.3 420.4,199.5 424.0,198.5 424.3,197.0 424.9,195.7 426.5,195.2 427.0,193.0 426.6,192.8 429.8,191.7 431.7,191.2 M412.8,193.5 415.3,193.7 417.4,192.5 420.1,191.0 422.2,191.5 424.3,190.7 425.2,190.7 427.0,189.9 427.0,191.9 429.8,191.0 431.7,191.2 M420.1,191.0 417.4,188.8 414.6,187.4 412.5,185.7 411.2,184.4 409.2,183.5 407.0,185.6 405.7,185.6 405.7,180.5 409.2,179.7 412.5,181.5 417.9,182.3 419.6,183.3 419.4,184.6 422.1,185.7 423.6,185.5 426.3,184.2 429.8,183.3 431.8,183.4 437.3,183.5 439.0,184.4 M400.8,184.9 404.0,184.6 405.7,185.6 M439.0,184.4 434.3,186.1 431.6,186.7 429.9,188.1 431.7,189.5 431.7,191.2 M426.3,184.2 425.6,186.0 429.1,186.3 427.4,187.3 425.6,187.4 424.0,188.1 421.4,188.1 422.6,190.1 421.9,191.2 M425.6,187.4 427.3,188.2 429.9,188.1 M396.3,178.6 395.3,177.2 393.3,176.4 392.6,175.7 393.3,174.7 393.0,173.6 395.3,173.5 398.4,171.4 403.6,172.2 407.0,172.2 411.2,172.6 413.2,172.2 412.5,170.2 412.8,168.2 418.1,167.5 423.6,166.3 426.3,167.8 429.8,168.1 434.3,167.7 436.0,169.5 438.7,172.5 443.5,172.2 446.0,174.2 448.8,174.7 M448.8,174.7 446.6,176.0 446.3,177.7 442.9,177.5 441.9,179.8 438.7,180.5 439.4,183.0 439.0,184.4 M448.8,174.7 451.8,174.0 455.3,172.6 459.4,173.6 463.5,172.9 463.9,171.1 469.3,171.8 469.4,172.9 475.9,173.6 480.1,174.7 484.2,174.0 489.3,173.9 M448.8,174.7 449.7,175.7 453.2,177.7 453.9,180.2 459.8,181.6 461.3,183.7 467.7,183.8 473.2,185.2 477.3,184.1 482.5,182.3 482.7,180.5 485.0,180.8 488.3,179.5 491.8,178.0 493.6,178.2 490.3,176.8 487.8,176.5 489.3,173.9 M489.3,173.9 492.7,173.5 494.9,170.0 498.7,168.8 502.1,169.8 504.2,173.2 508.7,175.3 509.0,176.8 514.1,176.0 513.1,177.3 511.9,180.5 509.4,180.8 509.0,182.6 508.6,184.2 M508.6,184.2 507.5,183.3 504.9,184.6 503.3,184.9 499.8,187.4 M503.1,190.4 505.4,189.3 M477.3,212.7 475.5,212.2 473.6,210.4 470.4,211.5 469.2,211.6 467.9,213.3 465.2,212.1 464.8,209.4 463.0,208.7 464.5,206.7 464.2,204.5 462.7,203.5 460.1,202.3 455.3,204.2 454.8,204.2 M454.8,204.2 451.1,203.9 450.8,205.0 452.2,205.7 455.3,205.4 454.8,204.2 M450.8,205.0 449.9,204.1 447.0,203.9 444.2,202.8 440.2,200.9 438.9,202.8 440.8,203.9 443.3,204.7 446.7,205.9 449.9,206.1 449.9,204.1 M440.2,200.9 437.3,199.5 437.1,197.7 438.0,197.0 437.1,195.2 435.7,193.6 433.2,192.9 431.7,191.2 M422.5,209.8 426.3,208.9 424.9,206.7 425.4,203.9 428.0,203.2 430.3,201.2 431.1,199.8 431.1,197.4 430.5,194.7 435.7,193.6 M451.1,212.5 450.8,209.0 450.0,207.0 452.2,206.3 452.2,207.6 455.7,207.9 454.2,210.0 455.9,209.8 455.7,213.6 M456.1,212.9 457.0,210.8 458.8,207.8 459.7,205.9 462.7,203.5 M467.9,213.3 466.4,214.5 463.5,215.4 462.7,217.0 464.3,220.2 463.8,221.8 465.2,224.6 465.6,226.7 464.5,228.4 M466.4,214.5 467.0,215.6 467.9,215.6 467.7,218.3 469.2,217.4 471.8,217.3 472.9,219.8 474.0,221.0 473.9,222.7 476.7,222.4 M469.2,211.6 470.4,213.8 472.5,214.4 471.8,215.6 473.4,216.9 475.2,219.1 476.6,221.1 476.7,222.4 476.6,225.3 474.3,226.5 474.5,227.5 472.5,228.2 M473.9,222.7 470.4,222.8 469.7,223.9 470.3,226.4 M466.4,233.5 467.7,234.5 469.2,234.0 M479.5,239.7 480.7,241.3 482.8,240.6 485.6,240.6 486.9,238.6 487.9,236.6 490.5,236.7 M522.8,246.1 522.8,255.0 M500.7,255.3 500.6,254.8 M325.5,194.1 326.2,196.3 326.8,198.1 323.7,198.8 323.0,199.9 320.9,201.3 316.5,203.0 316.5,204.9 321.9,208.1 330.2,213.4 332.9,215.2 334.3,216.2 336.5,215.6 345.0,210.1 348.1,211.4 349.2,210.8 361.6,215.6 361.6,214.9 362.9,214.9 362.9,211.5 379.3,211.5 M316.5,204.3 310.3,204.3 M316.5,204.9 316.5,206.7 312.0,206.7 312.0,210.1 310.6,210.8 310.6,213.2 305.1,213.2 M321.9,208.1 319.5,208.1 320.9,219.8 321.2,221.1 315.4,221.3 312.7,221.0 311.7,222.1 309.9,220.2 308.5,219.6 305.8,220.5 M311.7,222.1 312.8,225.4 309.6,225.1 305.5,225.4 M305.4,224.3 309.2,223.9 309.5,224.2 305.4,224.5 M309.6,225.1 309.6,226.4 307.8,227.3 M312.8,225.4 316.1,225.4 317.5,226.9 317.5,228.4 320.0,227.9 320.9,228.2 321.2,226.2 322.4,225.0 323.7,224.2 324.5,223.2 325.7,222.9 327.5,221.8 328.8,221.8 333.3,221.3 334.3,219.2 334.3,216.2 M310.2,230.1 312.7,228.7 313.9,230.1 314.3,230.8 315.4,230.9 316.8,232.0 317.9,230.9 317.5,228.4 M314.3,230.8 312.7,233.0 M316.8,232.0 318.2,234.5 318.2,236.4 M320.9,228.2 322.2,229.1 324.8,229.4 324.6,227.3 328.4,227.2 329.7,227.3 331.8,225.7 333.5,226.4 M324.8,229.4 324.1,233.1 324.6,235.5 M328.4,227.2 329.2,230.8 329.3,233.1 330.2,234.1 M329.7,227.3 330.7,230.1 330.7,234.0 M333.5,226.4 333.6,228.4 332.2,230.8 332.2,233.7 M331.8,225.7 329.7,223.8 328.8,221.8 M333.5,226.4 335.4,223.5 338.1,224.6 341.6,224.7 345.0,224.3 347.1,223.6 347.1,222.5 349.9,219.2 350.4,214.4 349.2,210.8 M341.6,200.9 342.1,203.9 341.6,206.1 342.3,208.7 345.0,210.1 M341.6,200.9 340.9,198.4 338.8,195.9 339.8,194.6 340.3,191.7 M341.6,200.9 342.7,198.8 344.3,197.9 344.3,196.8 M362.9,211.5 362.9,202.3 363.2,199.0 M340.2,236.3 340.9,234.2 343.0,232.9 344.8,232.9 346.1,230.5 347.5,227.3 348.6,226.7 348.1,225.4 347.8,224.6 347.1,223.6 M347.8,224.6 349.2,227.3 349.9,228.9 347.8,229.0 349.4,232.2 354.0,231.5 354.7,230.1 357.4,229.4 359.5,227.3 360.1,226.8 358.8,224.6 359.5,222.9 361.6,220.9 361.6,215.6 M349.4,232.2 348.5,234.2 349.2,236.6 350.5,239.5 346.8,239.5 344.1,239.5 342.0,239.3 M342.0,241.1 344.1,241.1 344.1,239.5 M343.9,247.9 344.9,247.3 345.7,245.7 348.3,245.7 348.3,244.3 347.7,242.8 348.5,240.7 346.8,239.5 M350.5,239.5 351.2,237.7 354.1,237.7 353.2,241.3 352.9,243.2 350.8,245.5 350.4,247.9 349.2,249.1 348.3,249.3 347.0,249.3 346.4,248.8 345.3,250.5 M345.3,250.5 347.0,250.6 351.4,250.6 351.9,252.8 354.7,253.5 356.7,252.3 358.5,252.6 358.8,257.9 361.6,257.5 M354.1,237.7 355.4,235.5 359.4,236.9 362.1,235.5 363.4,235.3 366.3,235.5 363.2,232.2 361.8,231.1 360.9,230.5 360.9,228.7 360.1,226.8 M366.3,235.5 369.1,236.3 370.9,237.7 371.2,237.4 374.7,237.3 375.3,236.7 378.0,236.2 M378.8,222.8 378.2,225.0 376.7,226.2 375.8,227.9 375.5,230.7 374.0,231.5 375.3,232.6 377.8,235.2 378.0,236.2 378.1,236.4 381.0,237.5 382.9,237.8 385.0,237.1 386.4,236.9 387.7,236.2 390.5,235.6 394.6,231.5 393.3,231.5 390.5,230.5 388.4,229.4 387.7,227.2 388.0,226.7 M381.7,217.7 379.5,218.9 378.8,222.8 381.5,222.5 383.6,222.5 386.9,225.3 387.9,225.0 M386.9,225.3 386.1,227.3 387.7,227.2 M386.4,236.9 385.0,238.6 385.0,243.7 385.8,244.8 M375.3,236.7 376.0,238.4 376.7,240.3 375.3,242.1 375.2,243.9 380.4,246.8 382.5,249.0 M370.9,237.7 371.6,239.5 369.4,241.5 369.3,244.4 370.5,243.9 375.2,243.9 M369.3,244.4 368.5,246.2 368.9,248.6 370.4,247.7 370.9,245.8 370.5,243.9 M368.5,246.2 370.5,245.8 M368.9,248.6 369.3,251.5 370.9,253.8 373.8,255.5 375.3,255.6 376.2,258.5 379.5,258.5 384.2,257.0 M376.2,258.5 376.6,261.1 378.0,263.0 377.1,266.1 375.9,264.5 376.0,262.5 374.2,261.8 373.6,261.2 374.2,259.7 373.8,255.5 M374.2,261.8 370.1,263.2 370.4,264.0 373.8,265.5 373.7,268.7 373.3,271.8 371.6,273.4 369.0,273.1 366.7,270.7 364.6,268.7 363.4,267.0 365.7,267.2 368.3,264.4 370.4,264.0 M370.9,253.8 368.3,254.2 367.6,255.3 367.9,257.7 367.6,259.7 369.6,261.0 368.5,261.0 366.0,258.8 363.5,257.9 362.1,258.2 361.6,257.5 361.4,260.1 358.8,260.4 358.8,264.8 360.7,266.7 M344.8,266.3 347.8,266.5 354.0,266.5 360.7,266.7 363.4,267.0 M357.4,267.7 357.4,272.8 356.1,272.8 356.1,276.7 356.1,281.6 353.3,282.3 351.2,281.9 M356.1,276.7 357.2,279.4 359.8,277.6 363.6,277.9 365.6,275.8 369.0,273.1 M371.6,273.4 372.6,276.3 372.6,279.4 373.8,279.4 M371.2,278.3 372.6,278.3 372.6,279.7 371.2,280.0 371.2,278.3 M365.7,283.3 367.8,281.9 369.0,283.1 367.4,284.7 365.7,283.3"/>
<path stroke-width="0.9" d="M258.9,243.3 256.9,244.6 253.4,245.5 250.0,245.8 245.8,246.9 241.7,247.7 238.9,246.4 235.5,246.1 232.1,248.3 229.3,247.7 227.5,247.7 M427.7,151.2 423.6,150.7 420.1,150.9 418.1,153.6 419.4,155.7 423.6,158.5 429.8,158.2 433.9,158.7 438.7,160.5 442.9,162.6 443.7,164.0 M441.5,143.6 443.5,145.4 447.0,146.7 448.1,149.5 449.7,151.8 450.3,154.0 M449.7,151.8 454.7,153.2 M503.5,142.9 502.8,145.8 500.7,148.1 498.2,149.9 500.0,152.9 502.8,154.3 506.9,155.3 513.5,155.6 514.5,159.4 M502.1,154.0 498.0,154.7 492.5,154.6 M474.5,141.6 478.7,140.8 482.8,139.9 485.6,139.2 M142.8,147.7 143.9,149.5 148.0,150.5 151.0,151.3 153.5,152.3 155.6,153.1 157.0,152.7 M223.1,181.7 226.5,180.2 230.4,178.0 232.3,176.8 234.1,175.3 M223.5,191.5 223.2,189.7 223.4,188.4 M522.2,169.3 520.7,170.9 517.5,172.8 514.8,175.5 511.7,176.4 509.0,176.6"/>
<path stroke-width="0.6" d="M252.7,142.6 252.3,143.7 253.8,144.3 253.2,145.4 254.4,145.0 254.8,146.5 256.0,145.4 256.4,146.9 257.6,145.9 258.2,146.9 257.6,147.8 256.1,147.1 255.6,148.3 254.5,149.0 255.0,150.3 254.7,151.2 256.2,151.2 256.0,152.4 257.2,152.6 256.5,154.0 257.7,154.2 257.8,155.5 259.4,155.2 259.5,156.5 260.7,156.4 260.6,157.9 262.1,157.4 262.2,158.6 M303.0,135.0 301.9,135.3 302.1,136.9 300.8,137.0 301.9,137.9 301.4,139.2 301.3,140.2 299.9,139.7 300.0,141.2 298.8,141.1 298.4,142.3 296.8,141.7 296.6,143.3 295.3,143.1 296.5,143.3 296.4,144.9 297.9,144.3 298.1,145.5 297.5,146.3 296.1,145.4 295.5,146.5 294.4,146.2 294.4,147.7 293.0,147.0 292.8,148.2 291.7,147.5 290.9,148.9 289.8,147.7 289.1,149.1 288.0,147.9 287.2,148.9 M273.4,152.9 272.4,153.2 272.9,154.7 271.3,154.6 271.5,155.8 270.2,156.2 270.8,157.8 269.2,157.9 269.4,159.2 M140.4,162.2 141.6,162.0 141.7,160.8 142.1,162.0 143.6,161.5 143.8,162.7 145.0,162.7 144.8,164.3 146.1,164.2 146.2,165.6 147.5,165.8 147.5,166.9 148.9,166.4 149.0,167.6 150.3,167.5 150.6,168.8 152.0,168.9 152.3,170.3 153.1,170.9 152.2,171.5 153.5,171.5 153.7,172.7 155.0,172.3 155.4,173.8 156.6,173.4 157.0,174.5 158.3,173.7 158.7,174.8 M336.2,161.5 336.4,160.4 335.2,159.9 336.0,158.8 335.2,157.8 335.9,156.9 336.3,155.9 337.6,156.8 338.1,155.7 339.4,156.0 340.1,154.8 341.4,155.3 342.2,154.1 343.3,154.4 343.3,152.9 344.5,153.1 344.6,151.8 345.9,151.7 346.0,150.4 347.2,150.3 347.4,149.2 348.8,149.8 349.1,148.6 350.2,148.9 350.4,147.7 351.7,148.1 352.1,146.5 353.4,146.9 354.1,145.9 355.3,146.9 356.0,145.9 357.1,146.6 357.8,145.1 358.8,145.8 359.5,144.7 360.9,145.6 361.5,144.5 M227.9,300.4 227.3,301.4 228.1,302.4 226.9,302.8 227.5,304.2 226.4,304.4 226.3,305.6 224.7,305.4 224.6,306.7 224.9,307.5 225.9,307.1 224.9,307.6 225.5,309.0 224.3,309.2 225.2,310.2 224.0,311.2 224.9,312.1 224.5,313.1 226.1,313.1 225.7,314.2 226.9,314.1 226.9,315.6 228.0,315.4 228.7,316.4 229.9,315.5 230.6,316.5 M229.3,316.9 229.6,318.0 230.8,317.8 231.4,318.9 232.7,317.9 233.4,319.0 M243.8,150.9 243.1,149.9 241.8,150.8 241.4,149.2 240.2,149.7 239.6,148.6 238.3,149.7 237.7,148.2 236.5,149.2 235.9,147.7 234.8,148.3 235.8,148.4 236.1,147.3 236.0,146.3 234.7,146.2 234.2,145.2 233.0,146.1 232.5,144.6 231.3,145.6 230.7,144.5 229.7,145.1 229.2,143.6 228.0,144.6 227.5,143.2 226.5,143.8 225.9,142.7 224.7,143.6 224.3,142.1 223.0,143.1 222.5,142.0 221.6,142.9 220.7,141.7 220.0,143.1 219.0,141.9 218.3,142.8 M239.6,155.7 238.4,155.6 238.1,157.2 236.8,156.9 235.8,157.5 235.2,156.0 234.1,156.6 233.4,155.6 232.3,156.7 231.7,155.2 230.6,155.9 M239.4,159.4 239.5,160.5 241.0,160.2 240.6,161.7 241.8,161.8 241.7,163.0 243.3,162.9 242.7,164.4 243.9,164.5 244.0,165.7 245.6,165.3 245.7,166.5 246.8,166.0 247.1,167.5 248.3,166.5 248.8,167.6 M221.0,136.4 222.2,136.2 222.3,134.9 223.6,135.2 224.0,133.5 225.3,133.8 225.9,132.8 227.0,133.9 227.6,132.5 228.7,133.6 229.3,132.2 230.5,133.3 231.1,131.8 232.1,132.5 232.8,131.5 233.9,132.6 234.5,131.1 235.6,132.2 236.2,130.8 237.3,131.9 238.0,130.4 239.0,131.1 239.6,130.0 240.8,131.0 241.2,129.5 242.5,130.4 243.0,129.3 M204.5,137.1 205.3,137.8 206.2,136.5 207.1,137.9 208.0,136.6 208.8,137.9 209.7,136.7 210.5,138.0 211.4,137.2 212.2,138.0 213.1,136.8 214.0,138.1 214.8,136.8 215.7,138.1 216.6,136.8 217.4,138.1 218.3,137.3 219.4,137.7 219.9,136.2 221.1,136.6 M210.0,129.2 209.1,128.7 208.4,130.1 207.3,129.0 206.7,130.4 205.6,129.2 204.9,130.6 203.9,129.4 203.1,130.4 203.7,131.1 205.0,130.1 205.4,131.7 206.6,130.7 207.2,131.8 208.2,131.1 208.8,132.5 209.8,131.4 210.5,132.8 211.4,132.1 210.2,132.5 210.1,133.8 208.8,133.5 208.5,135.2 207.2,134.9 207.0,136.1 205.5,135.5 205.6,137.1 204.4,136.9 M218.3,139.2 217.2,138.8 216.6,140.3 215.5,139.7 214.6,140.5 213.7,139.2 212.8,140.5 211.8,139.2 210.9,140.5 210.0,139.2 209.1,140.5 208.2,139.2 207.3,140.1 206.4,139.1 205.4,140.4 204.5,139.0 203.5,140.2 202.7,138.9 201.7,139.6 M196.2,132.3 197.3,132.6 197.6,131.0 199.0,131.9 199.3,130.4 200.4,130.8 201.3,130.2 201.9,131.6 203.0,130.6 203.5,132.0 204.5,131.4 205.1,132.5 206.4,131.5 206.8,133.0 208.0,132.1 208.6,133.2 208.3,134.0 206.9,133.3 206.9,134.9 205.8,134.6 204.9,135.3 204.1,133.9 203.0,135.1 202.3,133.7 201.2,134.8 200.4,133.9 199.3,134.3 199.0,132.8 197.6,133.6 197.3,132.0 196.2,132.5 M167.3,138.9 168.1,139.7 169.1,138.5 169.8,139.9 170.8,138.8 171.5,140.2 172.6,139.1 173.2,140.5 174.2,139.8 175.2,140.6 176.0,139.2 177.0,140.5 177.8,139.1 178.8,140.3 179.7,139.0 180.7,140.2 181.5,138.9 182.5,139.6 M101.4,167.4 102.5,167.6 102.7,166.1 104.1,166.9 104.5,165.7 105.7,166.2 106.3,164.7 107.4,165.3 108.0,164.0 109.5,164.7 110.0,163.5 M119.5,160.8 120.4,160.1 119.9,158.9 121.3,159.2 122.0,158.0 121.2,157.6 120.4,159.0 119.5,158.3 119.3,159.5 117.9,159.0 117.8,160.1 M124.2,158.9 125.2,159.4 125.9,158.0 127.0,158.6 128.0,158.2 128.3,159.8 129.5,159.4 M347.8,135.7 348.4,136.6 349.6,135.5 350.1,137.0 351.3,136.0 351.9,137.0 352.3,135.8 353.7,136.5 353.6,134.9 354.8,135.2 355.4,134.3 356.4,135.5 357.1,134.1 358.0,135.3 358.8,134.4 M405.0,143.3 405.9,142.5 405.5,141.2 406.8,141.5 407.1,139.9 408.5,140.8 409.0,139.7 410.1,140.2 410.5,138.6 411.7,139.6 412.1,138.1 413.3,139.0 413.9,137.9 415.0,138.5 415.6,137.0 416.8,138.1 417.5,136.6 418.7,137.7 419.4,136.6 M320.5,163.3 320.1,164.3 321.1,164.9 320.9,165.9 322.0,165.9 M307.8,227.3 308.4,228.2 309.6,228.3 309.1,229.8 310.3,230.0 310.0,231.1 311.5,231.2 311.1,232.3"/>
</g>
<clipPath id="ax"><rect x="80.5" y="118.5" width="496" height="248"/></clipPath>
<g stroke="#000" stroke-width="1.39" stroke-dasharray="1.39 1.39" fill="none" clip-path="url(#ax)">
<path d="M80.5,159.83H576.5"/>
<path d="M80.5,201.17H576.5"/>
<path d="M80.5,242.50H576.5"/>
<path d="M80.5,283.83H576.5"/>
<path d="M80.5,325.17H576.5"/>
<path d="M80.5,366.50H576.5"/>
<path d="M163.17,366.5V118.5"/>
<path d="M245.83,366.5V118.5"/>
<path d="M328.50,366.5V118.5"/>
<path d="M411.17,366.5V118.5"/>
<path d="M493.83,366.5V118.5"/>
<path d="M576.50,366.5V118.5"/>
</g>
<rect x="80.5" y="118.5" width="496" height="248" fill="none" stroke="#000" stroke-width="1"/>
<g font-family="'DejaVu Sans', 'Liberation Sans', sans-serif" fill="#000">
<g font-size="16.67px" text-anchor="middle">
<text x="328.5" y="88.2">v5.3: Occultations from 2025-10-14</text>
<text x="330.4" y="109.1">Beta Angle = 63.4</text>
</g>
<g font-size="13.89px">
<text x="75.0" y="163.8" text-anchor="end">60°N</text>
<text x="581.2" y="163.8" text-anchor="start">60°N</text>
<text x="75.0" y="205.2" text-anchor="end">30°N</text>
<text x="581.2" y="205.2" text-anchor="start">30°N</text>
<text x="75.0" y="246.5" text-anchor="end">0°</text>
<text x="581.2" y="246.5" text-anchor="start">0°</text>
<text x="75.0" y="287.8" text-anchor="end">30°S</text>
<text x="581.2" y="287.8" text-anchor="start">30°S</text>
<text x="75.0" y="329.2" text-anchor="end">60°S</text>
<text x="581.2" y="329.2" text-anchor="start">60°S</text>
<text x="75.3" y="369.9" text-anchor="end">90°S</text>
<text x="581.2" y="369.9" text-anchor="start">90°S</text>
<text x="80.2" y="382" text-anchor="middle">180°</text>
<text x="80.2" y="382" text-anchor="middle">180°</text>
<text x="163.2" y="382" text-anchor="middle">120°W</text>
<text x="245.8" y="382" text-anchor="middle">60°W</text>
<text x="328.5" y="382" text-anchor="middle">0°</text>
<text x="411.2" y="382" text-anchor="middle">60°E</text>
<text x="493.8" y="382" text-anchor="middle">120°E</text>
<text x="576.2" y="382" text-anchor="middle">180°</text>
<text x="576.2" y="382" text-anchor="middle">180°</text>
<text x="266" y="413">Sunrise</text>
<text x="384" y="413">Sunset</text>
</g>
</g>
<rect x="236" y="404" width="9.2" height="9.2" rx="0.8" fill="#008000"/>
<rect x="354" y="404" width="9.2" height="9.2" rx="0.8" fill="#ff0000"/>
</svg>
</body></html>
